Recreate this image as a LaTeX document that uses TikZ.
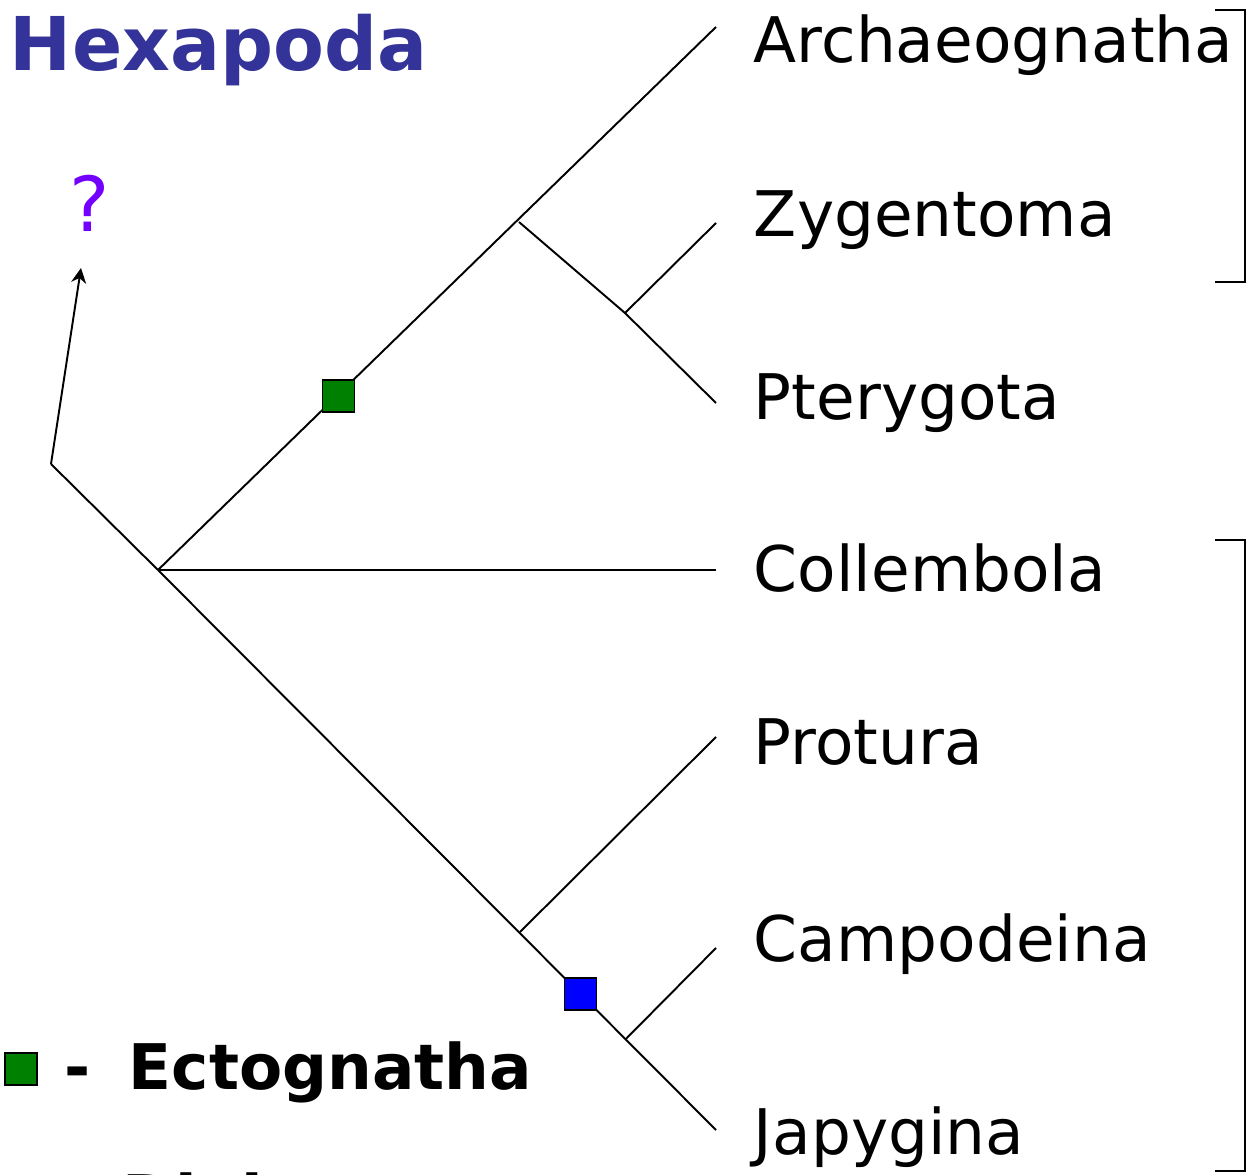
\documentclass[tikz,border=0pt]{standalone}
\usepackage{fontspec}
\setmainfont{DejaVu Sans}
\usetikzlibrary{arrows.meta,calc}
\definecolor{hexblue}{RGB}{51,51,153}
\definecolor{qpurple}{RGB}{115,0,255}
\definecolor{ectogreen}{RGB}{0,128,0}
\tikzset{
  taxon/.style={anchor=base west, inner sep=0pt, font=\fontsize{35.8}{44}\selectfont},
  legend/.style={taxon, font=\fontsize{35.8}{44}\selectfont\bfseries},
  apo/.style={draw, line width=0.9pt, minimum size=0.64cm, inner sep=0pt}
}
\begin{document}
\begin{tikzpicture}[x=0.02cm, y=-0.02cm, line width=1.1pt]
  \useasboundingbox (0,0) rectangle (1249,1175);

  % Define nodes
  \coordinate (base)    at (51,464);
  \coordinate (qtip)    at (81,268);
  \coordinate (hexa)    at (158,570);
  \coordinate (insecta) at (519,222);
  \coordinate (dicond)  at (625,313);
  \coordinate (nonoc)   at (520,932);
  \coordinate (tArch) at (716,27);
  \coordinate (tZyg)  at (716,223);
  \coordinate (tPter) at (716,403);
  \coordinate (tColl) at (716,570);
  \coordinate (tProt) at (716,737);
  \coordinate (tCamp) at (716,948);
  \coordinate (tJapy) at (716,1130);
  \coordinate (diplura) at ($(hexa)!0.838!(tJapy)$);

  \node[anchor=base west, inner sep=0pt, text=hexblue,
        font=\fontsize{42.2}{50}\selectfont\bfseries] (title) at (9,71) {Hexapoda};
  \node[anchor=base west, inner sep=0pt, text=qpurple,
        font=\fontsize{43.2}{50}\selectfont] (quest) at (69,232) {?};

  \node[taxon] (arch) at (753,63)   {Archaeognatha};
  \node[taxon] (zyg)  at (753,237)  {Zygentoma};
  \node[taxon] (pter) at (753,420)  {Pterygota};
  \node[taxon] (coll) at (753,592)  {Collembola};
  \node[taxon] (prot) at (753,765)  {Protura};
  \node[taxon] (camp) at (753,962)  {Campodeina};
  \node[taxon] (japy) at (753,1154) {Japygina};

  % Connect the nodes
  \draw (base) -- (hexa);
  \draw[-{Stealth[length=0.3cm,width=0.3cm]}] (base) -- (qtip);
  \draw (hexa) -- (tArch);
  \draw (hexa) -- (tColl);
  \draw (hexa) -- (tJapy);
  \draw (insecta) -- (dicond) -- (tPter);
  \draw (dicond) -- (tZyg);
  \draw (nonoc) -- (tProt);
  \draw (diplura) -- (tCamp);

  \node[apo, fill=ectogreen] (sqEcto) at ($(hexa)!0.5!(insecta)$) {};
  \node[apo, fill=blue]      (sqDipl) at ($(hexa)!0.757!(tJapy)$) {};

  % Brackets
  \draw (1215,10) -- (1245,10) -- (1245,282) -- (1215,282);
  \draw (1215,540) -- (1245,540) -- (1245,1171) -- (1215,1171);

  % Legend
  \node[apo, fill=ectogreen] (keyEcto) at (21,1069) {};
  \node[legend] (dashEcto) at (64,1090) {-};
  \node[legend] (txtEcto)  at (128,1090) {Ectognatha};
  \node[apo, fill=blue] (keyDipl) at (21,1199) {};
  \node[legend] (dashDipl) at (64,1220) {-};
  \node[legend] (txtDipl)  at (122,1220) {Diplura};
\end{tikzpicture}
\end{document}
